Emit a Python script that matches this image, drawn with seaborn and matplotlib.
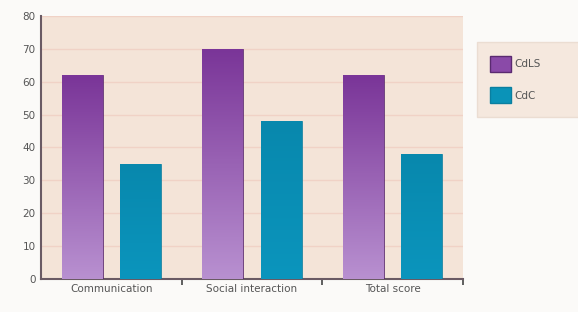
import numpy as np
import pandas as pd
import matplotlib
matplotlib.use("Agg")
import matplotlib.pyplot as plt
import seaborn as sns
from matplotlib.patches import Patch

# Data
categories = ["Communication", "Social interaction", "Total score"]
groups = ["CdLS", "CdC"]
cdls_values = [62, 70, 62]
cdc_values = [35, 48, 38]

df = pd.DataFrame({
    "category": categories * 2,
    "group": ["CdLS"] * 3 + ["CdC"] * 3,
    "score": cdls_values + cdc_values,
})

purple = "#8a4aa8"
teal = "#0a93b8"
palette = {"CdLS": purple, "CdC": teal}

sns.set_style("white")
plt.rcParams["font.family"] = ["DejaVu Sans"]

fig = plt.figure(figsize=(5.78, 3.12), dpi=100, facecolor="#fbfaf8")
ax = fig.add_axes([0.071, 0.106, 0.730, 0.843])
ax.set_facecolor("#f4e4d8")

sns.barplot(data=df, x="category", y="score", hue="group", palette=palette,
            width=0.83, gap=0.3, saturation=1, ax=ax, legend=False, zorder=3)

# gradient fill for the bars
grad_purple = matplotlib.colors.LinearSegmentedColormap.from_list("p", ["#b890d0", "#7a3598"])
grad_teal = matplotlib.colors.LinearSegmentedColormap.from_list("t", ["#0b95bd", "#0888ad"])
for i, bar in enumerate(ax.patches):
    x0, y0 = bar.get_x(), bar.get_y()
    w, h = bar.get_width(), bar.get_height()
    cmap = grad_purple if i < 3 else grad_teal
    img = ax.imshow(np.linspace(0, 1, 100).reshape(-1, 1), cmap=cmap, origin="lower",
                    extent=[x0, x0 + w, y0, y0 + h], aspect="auto", zorder=3)
    img.set_clip_path(bar)
    bar.set_facecolor("none")
    bar.set_edgecolor("#5a2a70" if i < 3 else "#0a7fa0")
    bar.set_linewidth(0.6)

ax.set_xlim(-0.5, 2.5)
ax.set_ylim(0, 80)
ax.set_yticks(range(0, 81, 10))
ax.grid(axis="y", color="#f0d2c6", linewidth=1.0, zorder=0)
ax.set_xlabel("")
ax.set_ylabel("")

for s in ["top", "right"]:
    ax.spines[s].set_visible(False)
ax.spines["left"].set_color("#6a5a64")
ax.spines["left"].set_linewidth(1.5)
ax.spines["bottom"].set_color("#6a5a64")
ax.spines["bottom"].set_linewidth(1.5)

ax.tick_params(axis="y", labelsize=7.5, labelcolor="#555555", length=0, pad=4)
ax.tick_params(axis="x", labelsize=7.5, labelcolor="#555555", length=0, pad=4)
ax.set_xticks([0.5, 1.5, 2.5], minor=True)
ax.tick_params(axis="x", which="minor", bottom=True, length=4, color="#444444",
               width=1.2, direction="out")

handles = [Patch(facecolor=purple, edgecolor="#5a2a70", label="CdLS"),
           Patch(facecolor=teal, edgecolor="#0a7fa0", label="CdC")]
leg = fig.legend(handles=handles, loc="upper left", bbox_to_anchor=(0.825, 0.62, 0.19, 0.245),
                 mode="expand", frameon=True, fontsize=7.5, handlelength=2.0, handleheight=2.0,
                 labelspacing=1.5, borderpad=1.3, fancybox=False, handletextpad=0.3,
                 borderaxespad=0)
leg.get_frame().set_facecolor("#f4e4d8")
leg.get_frame().set_edgecolor("#e8d8cc")
for t in leg.get_texts():
    t.set_color("#555555")

fig.savefig("out.png", dpi=100, facecolor=fig.get_facecolor())
